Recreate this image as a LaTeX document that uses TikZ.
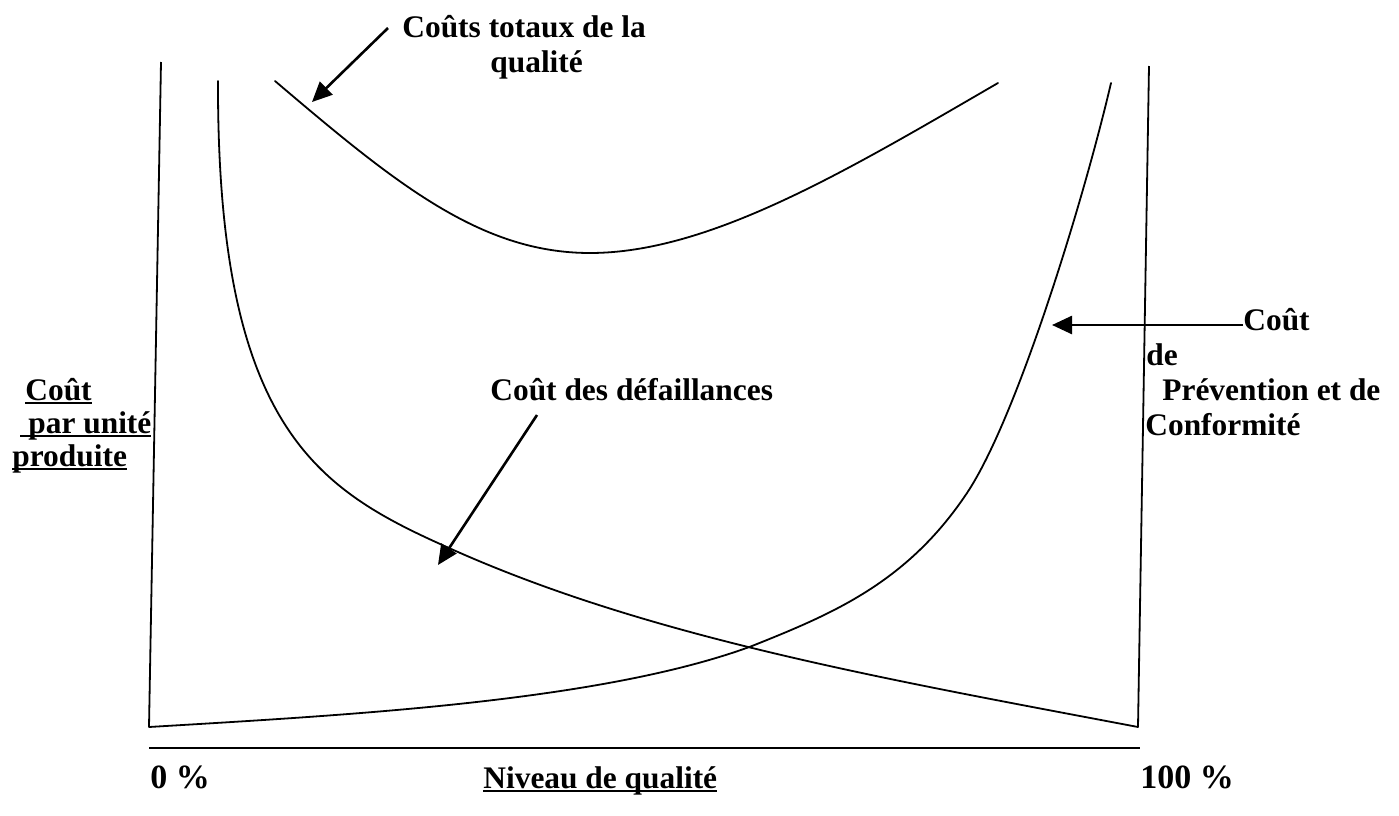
\documentclass[tikz,border=0pt]{standalone}
\usepackage{fontspec}
\setmainfont{Liberation Serif}
\usetikzlibrary{arrows.meta}
\newcommand\myul[1]{\setbox0\hbox{#1}\rlap{\rule[-1.8pt]{\wd0}{0.9pt}}\box0}
\begin{document}
\begin{tikzpicture}[x=0.5pt,y=-0.5pt,
  curve/.style={line width=0.9pt, line join=round, line cap=round},
  axisline/.style={line width=0.9pt},
  pointer/.style={line width=1.3pt,-{Triangle[length=10pt,width=9pt]}},
  lbl/.style={inner sep=0pt, anchor=base west, font=\fontsize{15.7}{18}\selectfont\bfseries},
  pct/.style={lbl, font=\fontsize{17}{20}\selectfont\bfseries}]
\useasboundingbox (0,0) rectangle (1399,815);
% axes
\coordinate (ltop) at (161,62);
\coordinate (lbot) at (149,727);
\coordinate (rtop) at (1149,66);
\coordinate (rbot) at (1138,727);
\coordinate (hl) at (149,748);
\coordinate (hr) at (1140,748);
\draw[axisline] (ltop) -- (lbot);
\draw[axisline] (rtop) -- (rbot);
\draw[axisline] (hl) -- (hr);
% total cost curve
\coordinate (t0) at (275,81);
\coordinate (tmin) at (590,253);
\coordinate (t1) at (998,83);
\draw[curve] (t0) .. controls (395,183) and (480,253) .. (tmin)
                  .. controls (710,253) and (848,170) .. (t1);
% failure cost curve
\coordinate (f0) at (218,81);
\coordinate (fm) at (449,548);
\draw[curve] (f0) .. controls (217,430) and (319,490) .. (fm)
                  .. controls (649,638) and (888,679.5) .. (rbot);
% prevention cost curve
\coordinate (p1) at (752,646);
\coordinate (p2) at (967,493);
\coordinate (p3) at (1111,83);
\draw[curve] (lbot) .. controls (349,715) and (602,701.5) .. (p1)
                    .. controls (832,614) and (907,583) .. (p2)
                    .. controls (1017,418) and (1083.7,200) .. (p3);
% labels
\node[lbl] (top1) at (402,37) {Coûts totaux de la};
\node[lbl] (top2) at (490,72) {qualité};
\node[lbl] (fail) at (490,400) {Coût des défaillances};
\node[lbl] (rc) at (1243,330) {Coût};
\node[lbl] (rde) at (1146,365) {de};
\node[lbl] (rprev) at (1162,400) {Prévention et de};
\node[lbl] (rconf) at (1145,435) {Conformité};
\node[lbl] (lc) at (25,400) {\myul{Coût}};
\node[lbl] (lpar) at (20,433) {\myul{\hspace{4pt}par unité}};
\node[lbl] (lprod) at (12,466) {\myul{produite}};
\node[pct] (zero) at (150,788) {0 \%};
\node[lbl] (niv) at (483,788) {\myul{Niveau de qualité}};
\node[pct] (cent) at (1140,788) {100 \%};
% pointers
\coordinate (a1s) at (388,28);
\coordinate (a1t) at (312,102);
\coordinate (a2s) at (537,415);
\coordinate (a2t) at (438,565);
\coordinate (a3s) at (1243,325);
\coordinate (a3t) at (1052,325);
\draw[pointer] (a1s) -- (a1t);
\draw[pointer] (a2s) -- (a2t);
\draw[pointer] (a3s) -- (a3t);
\end{tikzpicture}
\end{document}
